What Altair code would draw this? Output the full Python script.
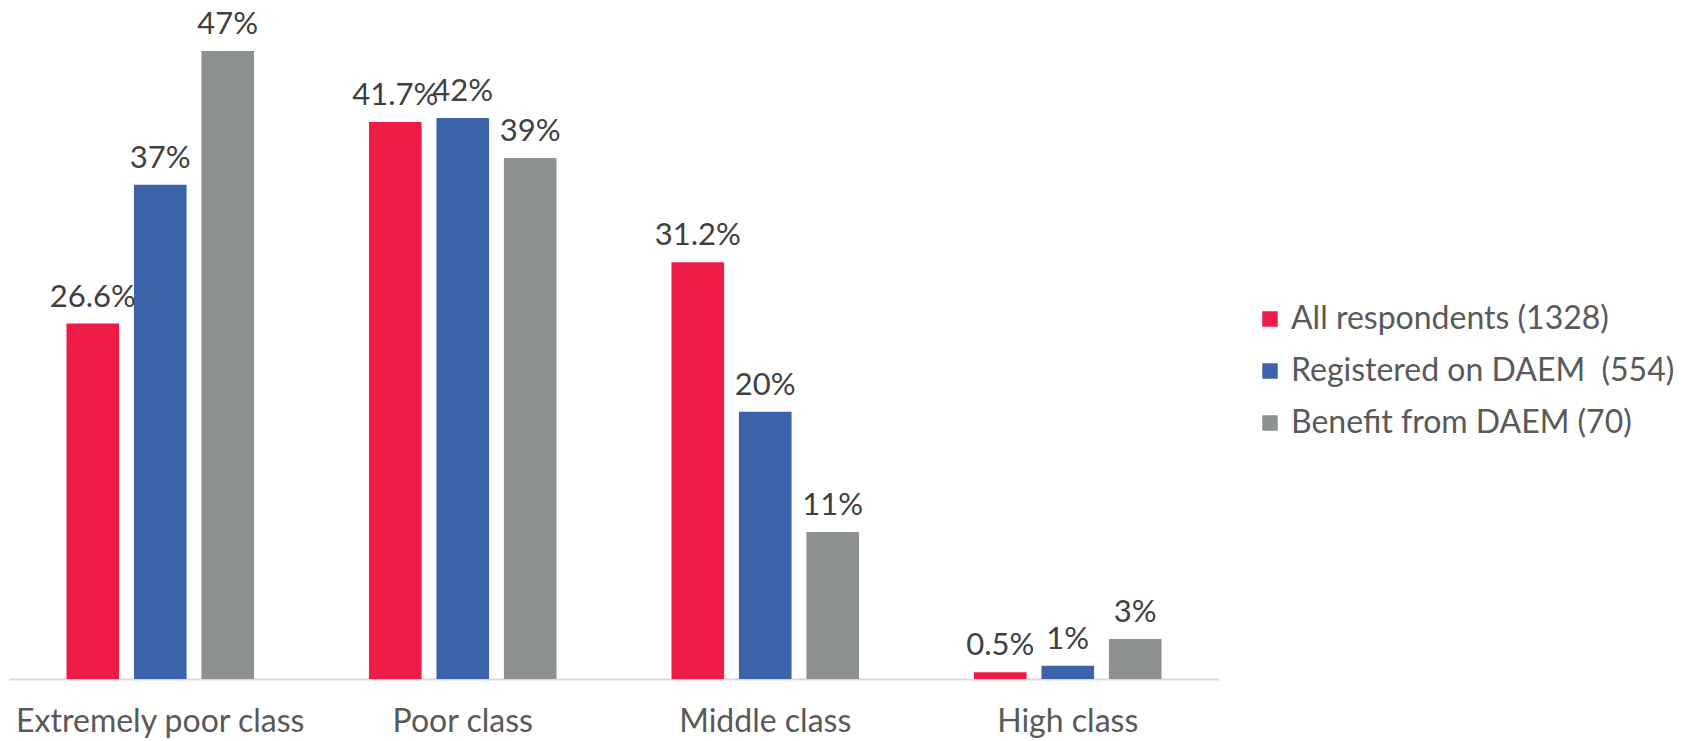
import altair as alt
import pandas as pd

categories = ["Extremely poor class", "Poor class", "Middle class", "High class"]
series = ["All respondents (1328)", "Registered on DAEM\u00a0 (554)", "Benefit from DAEM (70)"]
all_resp = [26.6, 41.7, 31.2, 0.5]
registered = [37, 42, 20, 1]
benefit = [47, 39, 11, 3]
label_all = ["26.6%", "41.7%", "31.2%", "0.5%"]
label_reg = ["37%", "42%", "20%", "1%"]
label_ben = ["47%", "39%", "11%", "3%"]
colors = ["#ED1B45", "#3C62AC", "#8D9190"]

rows = []
for vals, labs, s in [(all_resp, label_all, series[0]), (registered, label_reg, series[1]), (benefit, label_ben, series[2])]:
    for c, v, l in zip(categories, vals, labs):
        rows.append({"category": c, "series": s, "value": v, "label": l})
df = pd.DataFrame(rows)

FONT = "Lato"

x = alt.X("category:N", sort=categories, title=None,
          scale=alt.Scale(paddingInner=0.38, paddingOuter=0.19),
          axis=alt.Axis(labelAngle=0, labelFontSize=32, labelColor="#595959", labelFont=FONT,
                        labelBaseline="alphabetic", labelPadding=52, labelLimit=600,
                        ticks=False, domainColor="#D9D9D9", domainWidth=2, grid=False))
xo = alt.XOffset("series:N", sort=series, scale=alt.Scale(paddingInner=0.22, paddingOuter=0))
y = alt.Y("value:Q", scale=alt.Scale(domain=[0, 50], nice=False), axis=None)

bars = alt.Chart(df).mark_bar().encode(
    x=x, xOffset=xo, y=y,
    color=alt.Color("series:N", sort=series,
                    scale=alt.Scale(domain=series, range=colors),
                    legend=alt.Legend(title=None, orient="none", legendX=1245, legendY=292,
                                      symbolType="square", symbolSize=240, symbolStrokeWidth=0,
                                      labelFontSize=32, labelFont=FONT, labelColor="#595959",
                                      labelOffset=5, rowPadding=20, labelLimit=500))
)

text = alt.Chart(df).mark_text(baseline="alphabetic", dy=-17, fontSize=31, font=FONT,
                               color="#404040").encode(
    x=alt.X("category:N", sort=categories), xOffset=xo, y=y, text="label:N"
)

chart = (bars + text).properties(
    width=1210, height=668,
    autosize=alt.AutoSizeParams(type="none"),
    padding={"left": 1, "top": 3, "right": 455, "bottom": 62},
).configure_view(stroke=None).configure_axis(labelFont=FONT)

chart.save("out.html", embed_options={"renderer": "svg", "actions": False})
